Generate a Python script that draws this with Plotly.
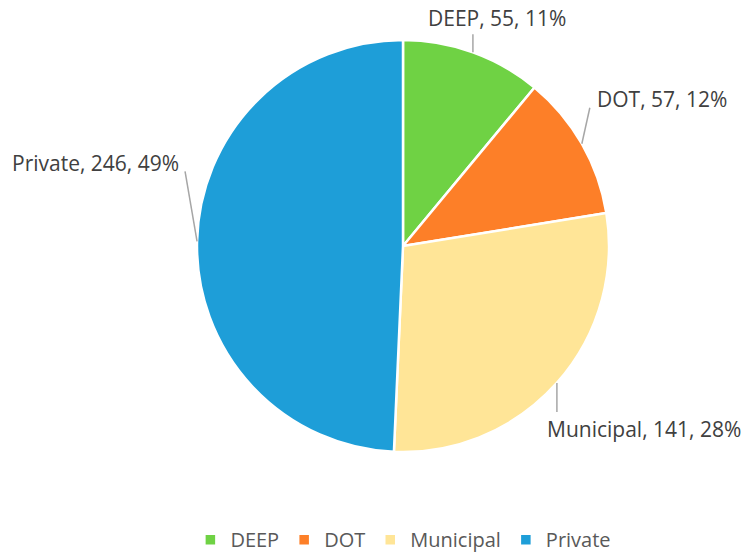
import math
import plotly.graph_objects as go

categories = ["DEEP", "DOT", "Municipal", "Private"]
values = [55, 57, 141, 246]
percent_labels = ["11%", "12%", "28%", "49%"]
colors = ["#6fd244", "#fd7f28", "#ffe597", "#1e9ed8"]

W, H = 747, 552
cx, cy, R = 403, 246, 206

# label layout (pixel offsets): leader start offset from slice edge, text anchor
leader_offsets = [(0, -18), (8, -36), (0, 29), (-12, -70)]
text_pos = [(497, 18, "center"), (595, 99, "left"), (545, 429, "left"), (181, 163, "right")]

fig = go.Figure(go.Pie(
    labels=categories,
    values=values,
    sort=False,
    direction="clockwise",
    rotation=0,
    marker=dict(colors=colors, line=dict(color="white", width=2.5)),
    textinfo="none",
    domain=dict(x=[(cx - R) / W, (cx + R) / W], y=[1 - (cy + R) / H, 1 - (cy - R) / H]),
    hoverinfo="label+value+percent",
))

def px(x, y):
    return x / W, 1 - y / H

total = sum(values)
cum = 0
for i, (cat, v, pl) in enumerate(zip(categories, values, percent_labels)):
    mid = (cum + v / 2) / total * 2 * math.pi
    cum += v
    ex = cx + R * math.sin(mid)
    ey = cy - R * math.cos(mid)
    dx, dy = leader_offsets[i]
    x0, y0 = px(ex, ey)
    x1, y1 = px(ex + dx, ey + dy)
    fig.add_shape(type="line", xref="paper", yref="paper", x0=x0, y0=y0, x1=x1, y1=y1,
                  line=dict(color="#a6a6a6", width=1.5))
    tx, ty, anc = text_pos[i]
    ax_, ay_ = px(tx, ty)
    fig.add_annotation(xref="paper", yref="paper", x=ax_, y=ay_, xanchor=anc, yanchor="middle",
                       text=f"{cat}, {v}, {pl}", showarrow=False,
                       font=dict(family="Open Sans", size=21, color="#404040"))

fig.update_layout(
    width=W, height=H,
    margin=dict(l=0, r=0, t=0, b=0, autoexpand=False),
    paper_bgcolor="white",
    showlegend=True,
    legend=dict(orientation="h", x=0.54, xanchor="center", y=-0.013, yanchor="bottom",
                font=dict(family="Open Sans", size=20, color="#595959"),
                itemwidth=30, traceorder="normal"),
)

fig.write_html("out.html", config={"displayModeBar": False},
               post_script="document.body.style.margin='0';document.body.style.padding='0';")
